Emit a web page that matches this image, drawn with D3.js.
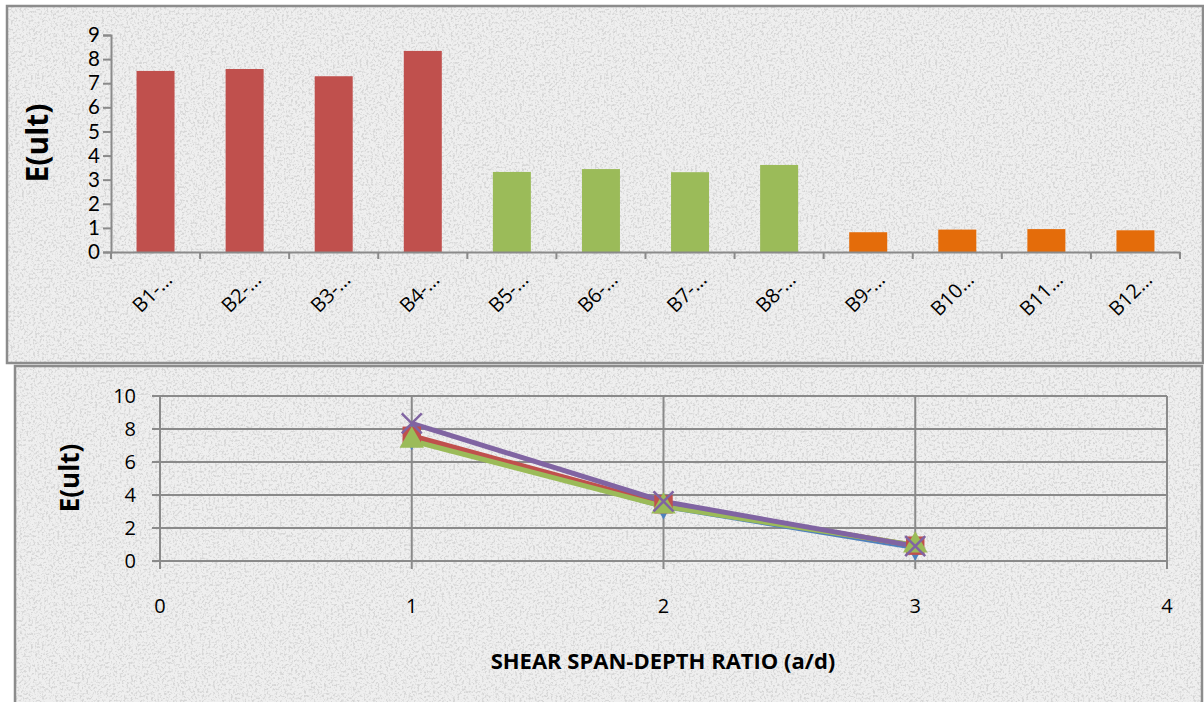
<!DOCTYPE html>
<html>
<head>
<meta charset="utf-8">
<script src="https://cdn.jsdelivr.net/npm/d3@7"></script>
<style>
  body { margin: 0; background: #fff; }
  svg { display: block; font-family: "Open Sans", Lato, sans-serif; }
</style>
</head>
<body>
<svg id="chart" width="1204" height="702"></svg>
<script>
// bar chart data
const beams = ["B1-…","B2-…","B3-…","B4-…","B5-…","B6-…","B7-…","B8-…","B9-…","B10…","B11…","B12…"];
const eult = [7.51, 7.59, 7.29, 8.34, 3.32, 3.44, 3.31, 3.61, 0.82, 0.93, 0.95, 0.90];
const barColors = ["#C0504D","#C0504D","#C0504D","#C0504D","#9BBB59","#9BBB59","#9BBB59","#9BBB59","#E46C0A","#E46C0A","#E46C0A","#E46C0A"];
const barTicks = [0,1,2,3,4,5,6,7,8,9];

// line chart data (a/d ratio vs E(ult))
const ratios = [1, 2, 3];
const seriesA = [7.51, 3.32, 0.82];
const seriesB = [7.59, 3.44, 0.93];
const seriesC = [7.29, 3.31, 0.95];
const seriesD = [8.34, 3.61, 0.90];
const lineTicksY = [0,2,4,6,8,10];
const lineTicksX = [0,1,2,3,4];

const svg = d3.select("#chart");

// granite-ish background texture
const defs = svg.append("defs");
const f = defs.append("filter").attr("id","granite").attr("x",0).attr("y",0).attr("width","100%").attr("height","100%");
f.append("feTurbulence").attr("type","fractalNoise").attr("baseFrequency",0.45).attr("numOctaves",3).attr("seed",4).attr("result","n");
f.append("feColorMatrix").attr("in","n").attr("type","matrix")
  .attr("values","0 0 0 0 0.55  0 0 0 0 0.55  0 0 0 0 0.55  -4 0 0 0 2.1");
const pat = defs.append("pattern").attr("id","bgtex").attr("patternUnits","userSpaceOnUse").attr("width",1204).attr("height",702);
pat.append("rect").attr("width",1204).attr("height",702).attr("fill","#efefef");
pat.append("rect").attr("width",1204).attr("height",702).attr("filter","url(#granite)").attr("opacity",0.6);

const gridCol = "#8a8a8a";

// ---------- top: bar chart ----------
svg.append("rect").attr("x",7).attr("y",6).attr("width",1196).attr("height",357)
  .attr("fill","url(#bgtex)").attr("stroke","#8c8c8c").attr("stroke-width",2.5);

const bx = d3.scaleBand().domain(beams).range([111,1180]);
const by = d3.scaleLinear().domain([0,9]).range([252,35]);

const topG = svg.append("g");
topG.selectAll(".bar")
  .data(eult)
  .enter()
  .append("rect")
  .attr("class","bar")
  .attr("x",(d,i)=>bx(beams[i]) + bx.bandwidth()/2 - 19)
  .attr("y",d=>by(d))
  .attr("width",38)
  .attr("height",d=>by(0)-by(d))
  .style("fill",(d,i)=>barColors[i]);

const byAxis = topG.append("g").attr("transform","translate(111,0)")
  .call(d3.axisLeft(by).tickValues(barTicks).tickSize(8).tickPadding(3));
byAxis.select(".domain").attr("stroke",gridCol).attr("stroke-width",2);
byAxis.selectAll(".tick line").attr("stroke",gridCol).attr("stroke-width",2);
byAxis.selectAll("text").attr("font-size",20.5).attr("fill","#000").attr("font-family","Lato, sans-serif");

const bxAxis = topG.append("g").attr("transform","translate(0,252)")
  .call(d3.axisBottom(bx).tickSize(0).tickFormat(""));
bxAxis.select(".domain").attr("stroke",gridCol).attr("stroke-width",2);
// tick marks between categories
topG.selectAll(".btick")
  .data(d3.range(beams.length + 1))
  .enter().append("line")
  .attr("x1",i=>bx.range()[0] + i*bx.step()).attr("x2",i=>bx.range()[0] + i*bx.step())
  .attr("y1",252).attr("y2",259)
  .attr("stroke",gridCol).attr("stroke-width",2);
topG.selectAll(".blabel")
  .data(beams)
  .enter().append("text")
  .attr("transform",d=>`translate(${bx(d)+bx.bandwidth()/2+18},${281}) rotate(-45)`)
  .attr("text-anchor","end")
  .attr("font-size",20)
  .text(d=>d);

topG.append("text")
  .attr("transform","translate(48,143) rotate(-90)")
  .attr("text-anchor","middle")
  .attr("font-size",30).attr("font-weight","bold")
  .text("E(ult)");

// ---------- bottom: line chart ----------
svg.append("rect").attr("x",15).attr("y",366).attr("width",1187).attr("height",345)
  .attr("fill","url(#bgtex)").attr("stroke","#8c8c8c").attr("stroke-width",2.5);

const lx = d3.scaleLinear().domain([0,4]).range([160,1167]);
const ly = d3.scaleLinear().domain([0,10]).range([561,396]);

const botG = svg.append("g");
botG.selectAll(".hgrid").data(lineTicksY).enter().append("line")
  .attr("x1",152).attr("x2",lx(4)).attr("y1",d=>ly(d)).attr("y2",d=>ly(d))
  .attr("stroke",gridCol).attr("stroke-width",2);
botG.selectAll(".vgrid").data(lineTicksX).enter().append("line")
  .attr("x1",d=>lx(d)).attr("x2",d=>lx(d)).attr("y1",ly(10)).attr("y2",ly(0)+8)
  .attr("stroke",gridCol).attr("stroke-width",2);
botG.selectAll(".ylab").data(lineTicksY).enter().append("text")
  .attr("x",136).attr("y",d=>ly(d)).attr("dy","0.36em")
  .attr("text-anchor","end").attr("font-size",20).text(d=>d);
botG.selectAll(".xlab").data(lineTicksX).enter().append("text")
  .attr("x",d=>lx(d)).attr("y",613)
  .attr("text-anchor","middle").attr("font-size",20).text(d=>d);

botG.append("text")
  .attr("transform","translate(79,478) rotate(-90)")
  .attr("text-anchor","middle")
  .attr("font-size",26).attr("font-weight","bold")
  .text("E(ult)");
botG.append("text")
  .attr("x",663).attr("y",669)
  .attr("text-anchor","middle")
  .attr("font-size",22).attr("font-weight","bold")
  .text("SHEAR SPAN-DEPTH RATIO (a/d)");

const line = d3.line().x((d,i)=>lx(ratios[i])).y(d=>ly(d));
const series = [
  {vals: seriesA, color: "#4F81BD", marker: "diamond"},
  {vals: seriesB, color: "#C0504D", marker: "square"},
  {vals: seriesC, color: "#9BBB59", marker: "triangle"},
  {vals: seriesD, color: "#8064A2", marker: "x"}
];
const symbolFor = {
  diamond: d3.symbol().type(d3.symbolDiamond).size(200),
  square: d3.symbol().type(d3.symbolSquare).size(340),
  triangle: d3.symbol().type(d3.symbolTriangle).size(260)
};
series.forEach(s => {
  botG.append("path").datum(s.vals)
    .attr("d",line).attr("fill","none")
    .attr("stroke",s.color).attr("stroke-width",5).attr("stroke-linejoin","round");
});
series.forEach(s => {
  s.vals.forEach((v,i) => {
    const cx = lx(ratios[i]), cy = ly(v);
    if (s.marker === "x") {
      const r = 10;
      botG.append("path")
        .attr("d",`M${cx-r},${cy-r}L${cx+r},${cy+r}M${cx-r},${cy+r}L${cx+r},${cy-r}`)
        .attr("stroke",s.color).attr("stroke-width",2.5);
    } else {
      botG.append("path").attr("d",symbolFor[s.marker]())
        .attr("transform",`translate(${cx},${cy})`)
        .attr("fill",s.color);
    }
  });
});
</script>
</body>
</html>
